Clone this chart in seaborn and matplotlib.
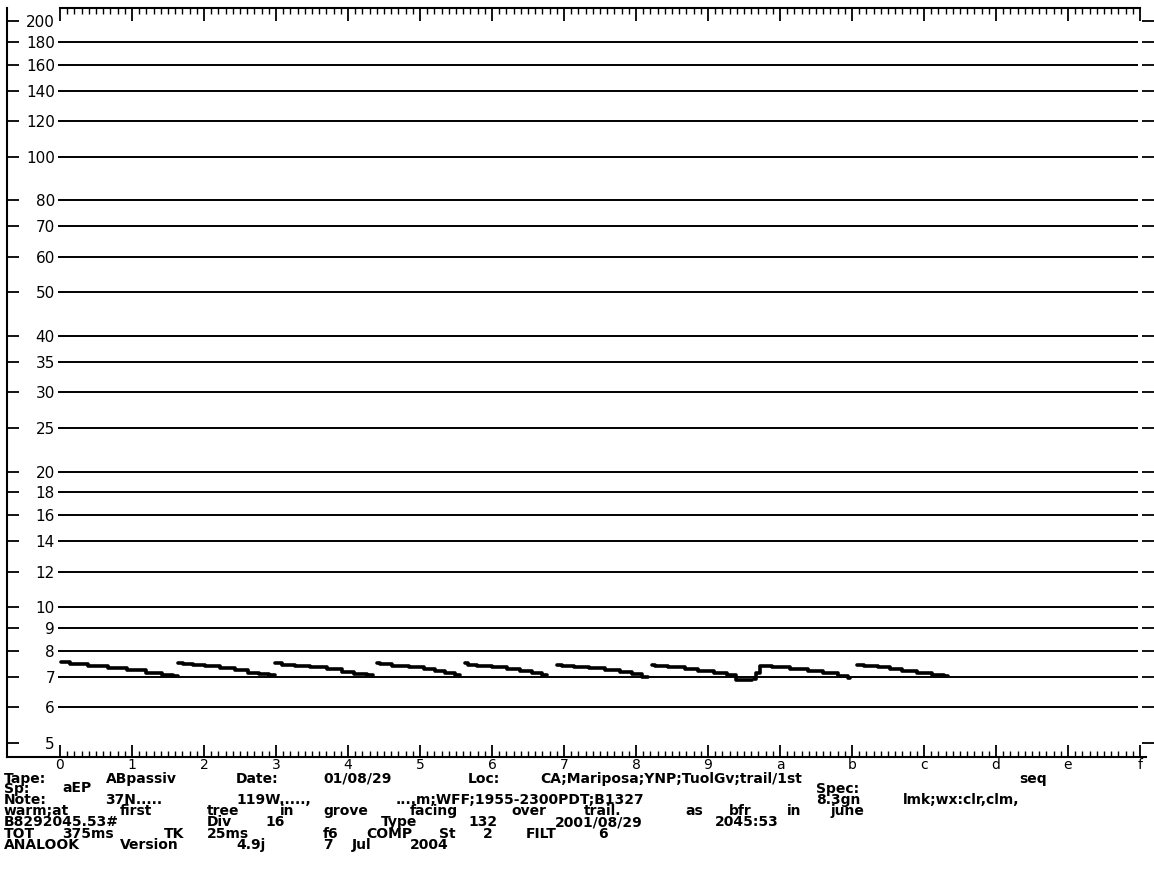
import re
import numpy as np
import pandas as pd
import matplotlib
matplotlib.use("Agg")
import matplotlib.pyplot as plt
import seaborn as sns
from matplotlib.ticker import FixedLocator, NullLocator

# call pulses: time (ms) and frequency (kHz)
pulse_ms = [
    [0.3, 6.3, 13.2, 19.8, 26.7, 33.0, 37.5, 41.0],
    [41.0, 44.4, 47.9, 52.8, 58.3, 63.2, 67.7, 70.5, 74.7],
    [74.7, 79.2, 84.0, 89.6, 95.5, 100.0, 104.2, 108.7],
    [110.1, 112.2, 118.1, 124.0, 128.5, 131.9, 135.4, 138.9],
    [140.6, 142.4, 146.9, 152.8, 157.3, 162.2, 165.6, 169.1],
    [172.6, 176.0, 180.6, 186.5, 192.0, 196.9, 200.3, 204.2],
    [205.6, 207.6, 214.6, 219.4, 224.0, 229.9, 233.3, 236.1, 240.3],
    [241.0, 242.0, 244.1, 250.0, 256.9, 262.2, 267.4, 272.6, 274.3],
    [276.7, 281.3, 286.5, 289.9, 295.1, 300.3, 305.6, 308.3],
]
pulse_khz = [
    [7.56, 7.48, 7.42, 7.34, 7.26, 7.16, 7.08, 7.05],
    [7.51, 7.48, 7.44, 7.41, 7.34, 7.26, 7.16, 7.11, 7.08],
    [7.51, 7.46, 7.41, 7.36, 7.29, 7.20, 7.11, 7.08],
    [7.51, 7.48, 7.42, 7.36, 7.30, 7.23, 7.14, 7.08],
    [7.53, 7.46, 7.42, 7.38, 7.31, 7.23, 7.16, 7.08],
    [7.46, 7.42, 7.38, 7.33, 7.26, 7.19, 7.11, 7.02],
    [7.46, 7.41, 7.36, 7.29, 7.23, 7.14, 7.08, 6.90, 6.90],
    [6.92, 7.14, 7.41, 7.38, 7.29, 7.23, 7.14, 7.04, 6.96],
    [7.46, 7.41, 7.36, 7.31, 7.23, 7.14, 7.08, 7.05],
]

ytick_khz = [200, 180, 160, 140, 120, 100, 80, 70, 60, 50, 40, 35, 30,
             25, 20, 18, 16, 14, 12, 10, 9, 8, 7, 6, 5]
grid_khz = ytick_khz[1:-1]
xtick_ms = list(range(0, 376, 25))
xtick_labels = list("0123456789abcdef")

header_lines = [
    "Tape:  ABpassiv Date: 01/08/29  Loc: CA;Mariposa;YNP;TuolGv;trail/1st seq",
    "Sp: aEP".ljust(56) + "Spec:",
    "Note:  37N..... 119W....., ....m;WFF;1955-2300PDT;B1327 8.3gn lmk;wx:clr,clm,",
    "warm;at first tree in grove facing over trail. as bfr in june",
    "B8292045.53#  Div 16      Type  132   2001/08/29 2045:53",
    "TOT 375ms  TK 25ms    f6 COMP St 2  FILT 6",
    "ANALOOK Version 4.9j  7 Jul 2004",
]

rows = []
for i, (ts, fs) in enumerate(zip(pulse_ms, pulse_khz)):
    for t, f in zip(ts, fs):
        rows.append((i, t, f))
df = pd.DataFrame(rows, columns=["pulse", "ms", "khz"])

sns.set_theme(style="white")
plt.rcParams["font.family"] = ["DejaVu Sans"]

W, H = 1154, 875
fig = plt.figure(figsize=(W / 100, H / 100), dpi=100)
# frame in pixels: x 7..1154, y 8..757
ax = fig.add_axes([7 / W, 1 - 757 / H, (1154 - 7) / W, (757 - 8) / H])

px_per_ms = 72 / 25
x0 = 60
ax.set_xlim((7 - x0) / px_per_ms, (1154 - x0) / px_per_ms)
ax.set_yscale("log")
y5, px_dec = 743, 450.7
ax.set_ylim(5 * 10 ** ((y5 - 757) / px_dec), 5 * 10 ** ((y5 - 8) / px_dec))

ax.hlines(grid_khz, -0.7, 374.2, colors="black", lw=1.4)
sns.lineplot(data=df, x="ms", y="khz", units="pulse", estimator=None,
             color="black", lw=2.6, sort=False, legend=False,
             drawstyle="steps-mid", ax=ax)

for s in ax.spines.values():
    s.set_color("black")
    s.set_linewidth(1.5)
ax.spines["right"].set_visible(False)
ax.spines["top"].set_bounds(0, 375)
ax.spines["bottom"].set_bounds(ax.get_xlim()[0], 377)

ax.xaxis.set_major_locator(FixedLocator(xtick_ms))
ax.set_xticklabels(xtick_labels)
ax.xaxis.set_minor_locator(FixedLocator(np.arange(0, 375.1, 2.5)))
ax.tick_params(axis="x", which="both", top=True, bottom=True,
               direction="in", color="black")
ax.tick_params(axis="x", which="major", length=9, width=1.3,
               labelsize=10, pad=1, labelcolor="black")
ax.tick_params(axis="x", which="minor", length=4, width=1)

ax.set_yticks(ytick_khz)
ax.set_yticklabels([str(v) for v in ytick_khz])
ax.yaxis.set_minor_locator(NullLocator())
ax.tick_params(axis="y", which="major", left=True, right=True,
               direction="in", length=8.5, width=1.3, color="black",
               labelsize=11, pad=-34.5, labelcolor="black")
ax.set_xlabel("")
ax.set_ylabel("")

# footer text, word by word on a fixed character pitch
pitch = 14.5
baselines = [783, 792.5, 804, 815, 826, 838, 849]
for line, base in zip(header_lines, baselines):
    for m in re.finditer(r"\S+", line):
        fig.text((4 + m.start() * pitch) / W, 1 - base / H, m.group(),
                 family="DejaVu Sans", weight="bold", fontsize=10,
                 va="baseline", ha="left", color="black")

fig.savefig("out.png", dpi=100, facecolor="white")
